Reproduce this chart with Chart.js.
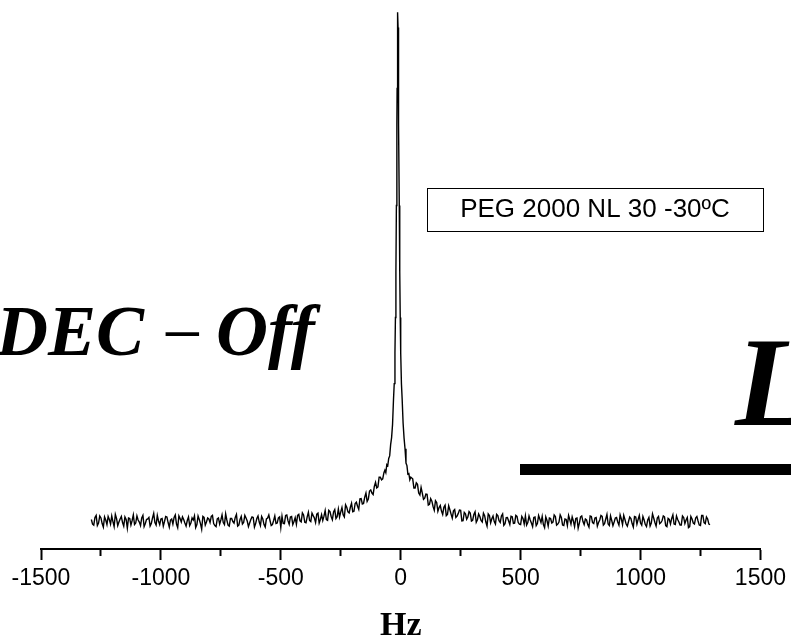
<!DOCTYPE html>
<html>
<head>
<meta charset="utf-8">
<script src="https://cdn.jsdelivr.net/npm/chart.js@4/dist/chart.umd.min.js"></script>
<style>
  html, body { margin: 0; padding: 0; background: #ffffff; }
  #wrap { position: relative; width: 791px; height: 640px; }
</style>
</head>
<body>
<div id="wrap"><canvas id="c" width="791" height="640"></canvas></div>
<script>
// ---- data (x in Hz, intensity in arbitrary units, baseline 0, peak 100) ----
const leftBaseHz = [
  -1290,-1280,-1270,-1260,-1250,-1240,-1230,-1220,-1210,-1200,
  -1190,-1180,-1170,-1160,-1150,-1140,-1130,-1120,-1110,-1100,
  -1090,-1080,-1070,-1060,-1050,-1040,-1030,-1020,-1010,-1000,
  -990,-980,-970,-960,-950,-940,-930,-920,-910,-900,
  -890,-880,-870,-860,-850,-840,-830,-820,-810,-800,
  -790,-780,-770,-760,-750,-740,-730,-720,-710,-700,
  -690,-680,-670,-660,-650,-640,-630,-620,-610,-600,
  -590,-580,-570,-560,-550,-540,-530,-520,-510,-500];
const leftBaseAmp = [
  0.3,-0.8,1.1,-0.4,0.6,-1.2,0.2,0.9,-0.6,-0.1,1.3,-0.9,0.4,-0.3,0.8,-1.4,0.5,0.1,-0.7,1.0,
  -0.2,0.6,-1.1,0.3,0.7,-0.5,1.5,-0.8,0.0,0.4,-1.0,0.9,-0.3,0.2,-0.6,1.2,-1.3,0.5,0.8,-0.4,
  0.1,-0.9,0.6,1.0,-0.7,0.3,-1.6,0.7,-0.2,0.4,0.9,-0.5,-1.1,0.6,0.2,-0.3,1.4,-0.8,0.5,-0.1,
  0.7,-1.0,0.3,-0.6,1.1,0.0,-0.4,0.8,-1.2,0.5,-0.2,0.9,-0.7,0.4,1.2,-0.9,0.1,-0.5,0.6,-1.3];
const leftBaseMidHz = [
  -1285,-1275,-1265,-1255,-1245,-1235,-1225,-1215,-1205,-1195,
  -1185,-1175,-1165,-1155,-1145,-1135,-1125,-1115,-1105,-1095,
  -1085,-1075,-1065,-1055,-1045,-1035,-1025,-1015,-1005,-995,
  -985,-975,-965,-955,-945,-935,-925,-915,-905,-895,
  -885,-875,-865,-855,-845,-835,-825,-815,-805,-795,
  -785,-775,-765,-755,-745,-735,-725,-715,-705,-695,
  -685,-675,-665,-655,-645,-635,-625,-615,-605,-595,
  -585,-575,-565,-555,-545,-535,-525,-515,-505];
const leftBaseMidAmp = [
  -0.6,0.7,-0.9,1.0,-0.5,0.8,-0.7,0.3,1.0,-1.1,
  0.5,-0.2,0.9,-1.0,0.3,0.6,-0.8,1.2,-0.4,0.2,
  -0.9,1.1,-0.5,0.4,-1.0,0.6,-0.3,1.1,-0.7,0.5,
  -0.1,0.8,-1.2,0.4,0.7,-0.6,1.0,-0.2,0.3,-1.0,
  0.8,-0.4,0.2,-1.3,1.0,-0.5,0.9,-0.8,0.6,-0.3,
  1.1,-0.9,0.4,-0.6,1.2,-0.7,0.2,-1.0,0.5,-0.4,
  1.3,-0.8,0.9,-0.3,0.6,-1.1,0.3,0.7,-0.5,1.0,
  -0.9,0.4,-1.2,0.6,0.1,-0.7,1.0,-0.4,0.8];

const leftWingHz = [
  -490,-480,-470,-460,-450,-440,-430,-420,-410,-400,
  -390,-380,-370,-360,-350,-340,-330,-320,-310,-300,
  -290,-280,-270,-260,-250,-240,-230,-220,-210,-200,
  -190,-180,-170,-160,-150,-140,-130,-120,-110,-100,
  -90,-80,-70];
const leftWingAmp = [
  -0.45,1.1,0.05,0.8,-0.7,0.65,1.1,0.05,1.6,-0.25,
  0.8,0.1,1.55,0.6,1.35,-0.4,1.25,0.95,0.3,2.1,
  0.9,1.8,0.5,2.35,1.8,1.25,3.2,1.8,2.7,1.8,
  3.45,2.9,4.35,3.35,4.7,3.85,5.9,5.5,6.8,6.5,
  8.6,8.1,9.5];
const leftWingMidHz = [
  -495,-485,-475,-465,-455,-445,-435,-425,-415,-405,
  -395,-385,-375,-365,-355,-345,-335,-325,-315,-305,
  -295,-285,-275,-265,-255,-245,-235,-225,-215,-205,
  -195,-185,-175,-165,-155,-145,-135,-125,-115,-105,
  -95,-85,-75];
const leftWingMidAmp = [
  0.95,-0.5,1.2,-0.65,0.9,-0.1,-0.65,1.3,-0.15,1.2,
  -0.35,1.7,-0.1,1.05,-0.3,1.55,0.3,0.1,2.05,0.15,
  1.85,0.25,2.25,0.85,0.8,2.65,0.8,2.7,1.6,3.5,
  1.9,3.7,2.3,4.4,3.45,5.5,4.3,6.1,5.2,7.6,
  6.7,8.6,8.3];

const peakHz = [
  -66,-62,-58,-54,-50,-46,-42,-38,-34,-30,
  -27,-24,-22,-20,-18,-16,-15,-14,-13,-12,
  -11,-10,-9,-8,-6,-4,-2,0,3,6,
  10,14,18,22,26,30,34,38,42];
const peakAmp = [
  10.0,9.5,11.1,10.9,12.3,12.8,15.0,16.4,19,24,
  27,33,40,49,62,78,85,92,97,100,
  97,92,85,78,62,49,40,33,27,24,
  19.2,16.3,14.2,11.4,10.9,9.2,9.3,8.1,8.6];

const rightWingHz = [
  50,60,70,80,90,100,110,120,130,140,
  150,160,170,180,190,200,210,220,230,240,
  250,260,270,280,290,300,310,320,330,340,
  350,360,370,380,390,400,410,420,430,440,
  450,460,470,480,490];
const rightWingAmp = [
  8.3,6.5,7.2,5.1,5.5,4.5,5.25,3.3,3.9,2.1,
  3.65,2.65,1.95,2.7,1.05,3.0,1.35,2.0,0.7,1.5,
  2.1,0.05,1.4,0.8,1.55,0.15,1.8,0.25,0.9,-0.2,
  1.05,-1.0,1.1,0.45,-0.1,1.3,0.05,1.0,-0.85,0.65,
  0.0,0.95,-0.45,1.1,-0.3];
const rightWingMidHz = [
  55,65,75,85,95,105,115,125,135,145,
  155,165,175,185,195,205,215,225,235,245,
  255,265,275,285,295,305,315,325,335,345,
  355,365,375,385,395,405,415,425,435,445,
  455,465,475,485,495];
const rightWingMidAmp = [
  6.5,7.5,5.5,6.6,4.25,5.3,3.15,4.4,2.85,4.0,
  1.9,3.05,1.3,3.1,1.3,2.2,0.55,2.25,0.95,2.15,
  0.0,1.7,0.35,1.85,0.0,1.3,-0.25,1.4,0.1,1.55,
  -0.2,1.4,-0.35,1.0,-0.6,1.05,-0.3,1.4,-0.55,0.7,
  -0.7,0.85,-0.4,0.9,-0.6];

const rightBaseHz = [
  500,510,520,530,540,550,560,570,580,590,
  600,610,620,630,640,650,660,670,680,690,
  700,710,720,730,740,750,760,770,780,790,
  800,810,820,830,840,850,860,870,880,890,
  900,910,920,930,940,950,960,970,980,990,
  1000,1010,1020,1030,1040,1050,1060,1070,1080,1090,
  1100,1110,1120,1130,1140,1150,1160,1170,1180,1190,
  1200,1210,1220,1230,1240,1250,1260,1270,1280,1290];
const rightBaseAmp = [
  -0.7,0.5,1.0,-0.3,0.2,-1.1,0.8,-0.5,0.4,0.9,-1.3,0.1,0.6,-0.4,1.2,-0.8,-0.2,0.7,-0.9,0.3,
  1.1,-0.6,0.0,0.5,-1.4,0.8,-0.1,0.4,-0.7,1.0,-0.3,0.6,-1.0,0.2,0.9,-0.5,1.3,-0.9,0.1,-0.2,
  0.7,-0.8,0.4,1.1,-0.6,-0.1,0.5,-1.2,0.8,0.3,-0.4,0.9,-0.7,0.2,-1.0,1.4,-0.3,0.6,-0.5,0.1,
  0.8,-1.1,0.3,0.5,-0.6,1.0,-0.2,-0.8,0.7,0.2,-1.3,0.9,-0.4,0.6,0.0,-0.9,1.1,-0.5,0.4,-0.7];
const rightBaseMidHz = [
  505,515,525,535,545,555,565,575,585,595,
  605,615,625,635,645,655,665,675,685,695,
  705,715,725,735,745,755,765,775,785,795,
  805,815,825,835,845,855,865,875,885,895,
  905,915,925,935,945,955,965,975,985,995,
  1005,1015,1025,1035,1045,1055,1065,1075,1085,1095,
  1105,1115,1125,1135,1145,1155,1165,1175,1185,1195,
  1205,1215,1225,1235,1245,1255,1265,1275,1285];
const rightBaseMidAmp = [
  0.9,-0.6,-0.8,1.0,-0.4,0.7,-0.9,1.1,-0.3,-0.7,
  0.8,-1.0,0.5,-0.2,0.9,-0.6,1.2,-0.8,0.4,-0.9,
  0.3,0.8,-1.1,0.6,-0.4,1.0,-0.7,0.2,-1.2,0.9,
  -0.5,0.7,-0.3,1.1,-0.8,0.4,-0.6,1.0,-0.9,0.6,
  -0.2,1.2,-0.7,0.3,-1.0,0.8,-0.5,0.9,-0.6,1.1,
  -0.8,0.2,-1.1,0.7,-0.4,0.6,-1.0,0.9,-0.3,1.0,
  -0.9,0.5,-0.6,1.2,-0.7,0.3,-0.8,1.0,-0.5,0.7,
  -1.1,0.4,-0.6,0.9,-0.8,1.1,-0.3,0.8,-0.6];

const tickValuesHz = [-1500,-1250,-1000,-750,-500,-250,0,250,500,750,1000,1250,1500];
const labelledTicksHz = [-1500,-1000,-500,0,500,1000,1500];
const axisTitle = 'Hz';
const boxLabel = 'PEG 2000 NL 30 -30\u00BAC';
const bigLeftText = ['DEC', '\u2212', 'Off'];
const bigRightText = 'L';

// ---- build the series (all read points, ordered by frequency) ----
const freqHz = [].concat(leftBaseHz, leftBaseMidHz, leftWingHz, leftWingMidHz, peakHz,
                         rightWingHz, rightWingMidHz, rightBaseHz, rightBaseMidHz);
const intensity = [].concat(leftBaseAmp, leftBaseMidAmp, leftWingAmp, leftWingMidAmp, peakAmp,
                            rightWingAmp, rightWingMidAmp, rightBaseAmp, rightBaseMidAmp);
const points = freqHz.map((x, i) => ({ x: x, y: intensity[i] })).sort((a, b) => a.x - b.x);

const annotations = {
  id: 'annotations',
  afterDraw(chart) {
    const ctx = chart.ctx;
    ctx.save();
    ctx.fillStyle = '#000';
    ctx.strokeStyle = '#000';
    // framed label
    ctx.lineWidth = 1;
    ctx.strokeRect(427.5, 188.5, 336, 43);
    ctx.font = '26px "Liberation Sans", Arial, sans-serif';
    ctx.textAlign = 'center';
    ctx.textBaseline = 'middle';
    ctx.fillText(boxLabel, 595, 210);
    // big italic serif words
    ctx.textAlign = 'left';
    ctx.textBaseline = 'alphabetic';
    ctx.font = 'italic bold 72px "Liberation Serif", "Times New Roman", serif';
    ctx.fillText(bigLeftText[0], -4, 355);
    ctx.font = '72px "Liberation Serif", "Times New Roman", serif';
    ctx.fillText(bigLeftText[1], 162, 358);
    ctx.font = 'italic bold 72px "Liberation Serif", "Times New Roman", serif';
    ctx.fillText(bigLeftText[2], 216, 355);
    ctx.font = 'italic bold 126px "Liberation Serif", "Times New Roman", serif';
    ctx.fillText(bigRightText, 735, 425);
    // thick bar
    ctx.fillRect(520, 464, 280, 11);
    ctx.restore();
  }
};

new Chart(document.getElementById('c'), {
  type: 'line',
  data: {
    datasets: [{
      data: points,
      borderColor: '#000',
      borderWidth: 1.4,
      pointRadius: 0,
      tension: 0,
      fill: false
    }]
  },
  options: {
    responsive: false,
    animation: false,
    events: [],
    layout: { padding: { left: 41, right: 29, top: 0, bottom: 0 } },
    plugins: { legend: { display: false }, tooltip: { enabled: false }, title: { display: false } },
    scales: {
      x: {
        type: 'linear',
        min: -1500,
        max: 1500,
        afterFit(scale) { scale.height = 91; },
        afterBuildTicks(scale) { scale.ticks = tickValuesHz.map(v => ({ value: v })); },
        border: { display: true, color: '#000', width: 2 },
        grid: {
          display: true,
          drawOnChartArea: false,
          drawTicks: true,
          tickLength: 11,
          tickWidth: 2,
          tickColor: '#000',
          tickBorderDash: (c) => (c.tick && labelledTicksHz.indexOf(c.tick.value) < 0) ? [6, 40] : []
        },
        ticks: {
          autoSkip: false,
          maxRotation: 0,
          padding: 5,
          color: '#000',
          font: { family: '"Liberation Sans", Arial, sans-serif', size: 23 },
          callback: (v) => labelledTicksHz.indexOf(v) >= 0 ? String(v) : ''
        },
        title: {
          display: true,
          text: axisTitle,
          color: '#000',
          padding: 0,
          font: { family: '"Liberation Serif", "Times New Roman", serif', size: 34, weight: 'bold', lineHeight: 0.8 }
        }
      },
      y: {
        display: false,
        min: -5.5,
        max: 102.4
      }
    }
  },
  plugins: [annotations]
});
</script>
</body>
</html>
